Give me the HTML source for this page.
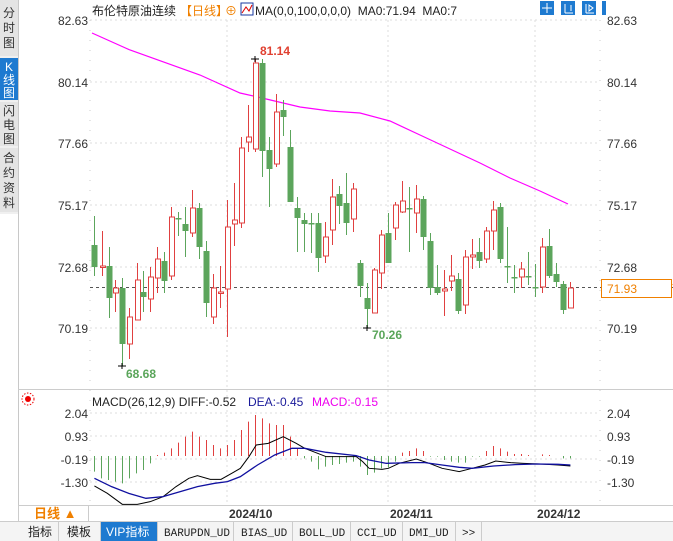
<!DOCTYPE html>
<html><head><meta charset="utf-8"><style>
body{margin:0;width:673px;height:541px;overflow:hidden;background:#fff;font-family:"Liberation Sans","Noto Sans CJK SC",sans-serif}
svg{position:absolute;left:0;top:0}
</style></head><body>
<svg id="s" width="673" height="541" xmlns="http://www.w3.org/2000/svg" font-family="Liberation Sans, Noto Sans CJK SC, sans-serif">
<rect x="0" y="0" width="18" height="214" fill="#f0f0f0"/>
<line x1="18.5" y1="0" x2="18.5" y2="521" stroke="#c8c8c8"/>
<rect x="0" y="0" width="18" height="56" fill="#e4e4e4"/>
<rect x="0" y="58" width="18" height="42" fill="#1e7ad0"/>
<rect x="0" y="102" width="18" height="44" fill="#e4e4e4"/>
<rect x="0" y="148" width="18" height="64" fill="#e4e4e4"/>
<g font-size="12" fill="#333" text-anchor="middle">
<text x="9" y="17">分</text><text x="9" y="32">时</text><text x="9" y="47">图</text>
<text x="9" y="71" fill="#fff">K</text><text x="9" y="84" fill="#fff">线</text><text x="9" y="97" fill="#fff">图</text>
<text x="9" y="115">闪</text><text x="9" y="129">电</text><text x="9" y="143">图</text>
<text x="9" y="162">合</text><text x="9" y="177">约</text><text x="9" y="192">资</text><text x="9" y="207">料</text>
</g>
<g font-size="12">
<text x="92" y="15" fill="#222">布伦特原油连续</text>
<text x="180" y="15" fill="#f08000">【日线】</text>
<text x="225" y="15" fill="#f08000">⊕</text>
<rect x="241" y="3" width="12" height="12" fill="#fff" stroke="#1a3aa0"/>
<polyline points="242,13 246,7 249,11 252,5" fill="none" stroke="#d00"/>
<text x="255" y="15" fill="#222" xml:space="preserve">MA(0,0,100,0,0,0)  MA0:71.94  MA0:7</text>
</g>
<g fill="#1e7ad0"><rect x="540" y="1" width="14" height="14"/><rect x="561" y="1" width="14" height="14"/><rect x="582" y="1" width="14" height="14"/><rect x="602" y="1" width="4" height="14"/></g>
<g stroke="#fff" fill="none"><path d="M547 3v10M542 8h10"/><path d="M565 4v9M565 13h8M571 5v6"/><path d="M586 4v9M586 13h8M589 5l4 3-4 3z"/></g>
<g font-size="12" fill="#333">
<text x="88" y="25" text-anchor="end">82.63</text><text x="88" y="87" text-anchor="end">80.14</text><text x="88" y="148" text-anchor="end">77.66</text><text x="88" y="210" text-anchor="end">75.17</text><text x="88" y="272" text-anchor="end">72.68</text><text x="88" y="333" text-anchor="end">70.19</text>
<text x="607" y="25">82.63</text><text x="607" y="87">80.14</text><text x="607" y="148">77.66</text><text x="607" y="210">75.17</text><text x="607" y="272">72.68</text><text x="607" y="333">70.19</text>
</g>
<g stroke="#ddd" stroke-dasharray="2,3">
<line x1="90" y1="20" x2="600" y2="20"/><line x1="90" y1="82" x2="600" y2="82"/><line x1="90" y1="143" x2="600" y2="143"/><line x1="90" y1="205" x2="600" y2="205"/><line x1="90" y1="267" x2="600" y2="267"/><line x1="90" y1="328" x2="600" y2="328"/>
<line x1="227" y1="20" x2="227" y2="505"/><line x1="388" y1="20" x2="388" y2="505"/><line x1="535" y1="20" x2="535" y2="505"/>
<line x1="90" y1="413" x2="600" y2="413"/><line x1="90" y1="436" x2="600" y2="436"/><line x1="90" y1="459" x2="600" y2="459"/><line x1="90" y1="482" x2="600" y2="482"/>
</g>
<line x1="90" y1="20" x2="90" y2="505" stroke="#ccc" stroke-dasharray="1,9"/>
<line x1="600" y1="20" x2="600" y2="505" stroke="#ccc" stroke-dasharray="1,9"/>
<polyline fill="none" stroke="#f0f" stroke-width="1.2" points="92,33 130,50 200,75 240,93 262,98 300,107 330,111 360,113 390,121 420,135 450,149 480,163 510,178 540,191 568,204"/>
<line x1="90" y1="287.5" x2="673" y2="287.5" stroke="#555" stroke-dasharray="3,3"/>
<g id="c"></g>
<text x="260" y="55" font-size="12" font-weight="bold" fill="#e04030">81.14</text>
<path d="M251 59h8M255 56v6" stroke="#000"/>
<text x="126" y="378" font-size="12" font-weight="bold" fill="#5aa55a">68.68</text>
<path d="M118 366h8M122 363v6" stroke="#000"/>
<text x="372" y="339" font-size="12" font-weight="bold" fill="#5aa55a">70.26</text>
<path d="M363 328h8M367 325v6" stroke="#000"/>
<polygon points="663,285 668,280 673,285" fill="#f08000"/>
<rect x="601.5" y="279.5" width="70" height="18" fill="#fff" stroke="#f08000"/>
<text x="607" y="293" font-size="12" fill="#f08000">71.93</text>
<line x1="18" y1="389.5" x2="673" y2="389.5" stroke="#ccc"/>
<circle cx="28" cy="399" r="3" fill="#e00"/><circle cx="28" cy="399" r="6" fill="none" stroke="#e00" stroke-dasharray="1.5,1.5"/>
<g font-size="12"><text x="92" y="406" fill="#222">MACD(26,12,9) DIFF:-0.52</text><text x="248" y="406" fill="#1a1a9a">DEA:-0.45</text><text x="312" y="406" fill="#e0e">MACD:-0.15</text></g>
<g font-size="12" fill="#333">
<text x="88" y="418" text-anchor="end">2.04</text><text x="88" y="441" text-anchor="end">0.93</text><text x="88" y="464" text-anchor="end">-0.19</text><text x="88" y="487" text-anchor="end">-1.30</text>
<text x="607" y="418">2.04</text><text x="607" y="441">0.93</text><text x="607" y="464">-0.19</text><text x="607" y="487">-1.30</text>
</g>
<g id="h"></g>
<g transform="translate(0,390) scale(0.4292,0.3333)" fill="none">
<polyline vector-effect="non-scaling-stroke" stroke="#000" stroke-width="1" points="220,288 250,310 285,343 320,343 350,335 380,320 410,290 440,265 460,257 490,268 515,268 540,250 560,235 580,200 597,165 625,160 660,140 690,160 710,175 740,190 760,200 800,200 830,200 845,215 860,235 890,238 905,235 930,220 970,207 1000,220 1030,235 1070,245 1100,235 1130,225 1155,213 1190,218 1220,220 1260,222 1300,225 1329,228"/>
<polyline vector-effect="non-scaling-stroke" stroke="#1010a0" stroke-width="1.3" points="220,265 260,290 300,310 340,325 380,320 420,305 460,290 500,280 530,275 560,260 600,225 640,195 680,175 710,175 760,187 830,197 860,210 900,220 960,218 990,218 1030,225 1070,232 1100,235 1150,228 1200,224 1250,222 1300,223 1329,225"/>
</g>
<line x1="18" y1="505.5" x2="673" y2="505.5" stroke="#ccc"/>
<rect x="18.5" y="505.5" width="70" height="16" fill="#fff" stroke="#ccc"/>
<text x="34" y="518" font-size="13" font-weight="bold" fill="#f08000">日线 ▲</text>
<g font-size="12" font-weight="bold" fill="#333"><text x="229" y="518">2024/10</text><text x="390" y="518">2024/11</text><text x="537" y="518">2024/12</text></g>
<rect x="0" y="521" width="673" height="20" fill="#f4f4f4"/>
<line x1="0" y1="521.5" x2="673" y2="521.5" stroke="#ccc"/>
<rect x="100" y="522" width="57" height="19" fill="#1e7ad0"/>
<g stroke="#ccc"><line x1="58.5" y1="522" x2="58.5" y2="541"/><line x1="100.5" y1="522" x2="100.5" y2="541"/><line x1="157.5" y1="522" x2="157.5" y2="541"/><line x1="233.5" y1="522" x2="233.5" y2="541"/><line x1="292.5" y1="522" x2="292.5" y2="541"/><line x1="350.5" y1="522" x2="350.5" y2="541"/><line x1="402.5" y1="522" x2="402.5" y2="541"/><line x1="455.5" y1="522" x2="455.5" y2="541"/><line x1="481.5" y1="522" x2="481.5" y2="541"/></g>
<g font-size="12" fill="#222"><text x="28" y="536">指标</text><text x="67" y="536">模板</text><text x="106" y="536" fill="#fff">VIP指标</text></g>
<g font-size="11" fill="#222" font-family="Liberation Mono, monospace"><text x="164" y="536">BARUPDN_UD</text><text x="241" y="536">BIAS_UD</text><text x="299" y="536">BOLL_UD</text><text x="357" y="536">CCI_UD</text><text x="409" y="536">DMI_UD</text><text x="462" y="536">&gt;&gt;</text></g>
</svg>
<script>
var C=[[94,'g',245,267,216,276],[102,'r',266,267,231,276],[109,'g',266,298,247,318],[115,'r',288,293,280,312],[122,'g',288,344,278,366],[129,'r',317,344,308,359],[137,'r',280,320,263,320],[143,'g',292,297,271,312],[150,'r',277,299,267,312],[157,'r',259,278,247,293],[164,'g',261,281,252,293],[171,'r',217,276,207,280],[178,'g',218,219,212,236],[185,'g',224,231,207,257],[192,'r',208,233,190,237],[199,'g',208,247,203,259],[206,'g',251,303,241,317],[213,'r',288,317,274,324],[220,'r',292,293,266,308],[227,'r',227,289,200,337],[234,'r',220,224,183,246],[241,'r',148,223,137,228],[248,'r',137,142,105,152],[255,'r',63,149,59,152],[262,'g',63,151,59,177],[269,'g',150,169,137,207],[276,'r',112,164,94,167],[283,'g',110,117,100,136],[290,'g',147,202,130,202],[297,'g',208,218,197,252],[304,'g',220,224,213,252],[311,'g',223,224,213,253],[318,'g',223,258,213,272],[325,'r',237,256,222,263],[332,'r',197,230,179,245],[339,'g',194,206,186,224],[346,'g',203,223,173,235],[353,'r',189,219,183,232],[360,'g',263,286,260,297],[367,'g',298,309,283,328],[374,'r',270,313,268,313],[381,'r',235,273,230,289],[388,'g',233,263,213,263],[395,'r',205,228,202,240],[402,'r',201,212,181,213],[409,'g',208,209,187,252],[416,'r',199,213,185,233],[423,'g',199,237,196,250],[430,'g',241,288,233,295],[437,'g',287,293,265,295],[444,'r',289,291,270,316],[451,'r',276,281,255,291],[458,'g',279,311,273,314],[465,'r',257,305,250,314],[472,'r',255,257,239,269],[479,'g',252,261,238,268],[486,'r',231,259,227,263],[493,'r',210,231,201,250],[500,'g',207,259,203,263],[507,'g',266,267,227,283],[514,'g',277,278,265,293],[521,'r',269,277,262,288],[528,'g',276,277,252,285],[535,'g',287,288,264,297],[542,'r',247,287,238,293],[549,'g',246,276,229,278],[556,'g',274,282,263,287],[563,'g',284,310,281,314],[570,'r',288,308,282,308]];
var s='';C.forEach(function(c){var x=c[0],col=c[1]=='r'?'#e04040':'#5ca55c',t=c[2],b=c[3];if(b-t<1.5)b=t+1.5;
s+='<line x1="'+x+'.5" y1="'+c[4]+'" x2="'+x+'.5" y2="'+c[5]+'" stroke="'+col+'"/>';
if(c[1]=='r'){s+='<rect x="'+(x-2)+'.5" y="'+t+'" width="5" height="'+(b-t)+'" fill="#fff" stroke="'+col+'"/>'}else{s+='<rect x="'+(x-2.5)+'" y="'+t+'" width="6" height="'+(b-t)+'" fill="'+col+'"/>'}});
document.getElementById('c').innerHTML=s;
var H=[245,265,270,275,280,265,250,240,220,195,188,175,158,140,125,140,150,165,175,165,150,120,95,75,85,100,105,105,140,175,205,215,238,230,225,222,218,215,230,255,248,235,232,215,188,183,175,183,200,200,210,215,218,218,200,200,183,168,175,185,192,192,195,198,193,195,198,205,205];
var h='';H.forEach(function(v,i){var x=94+i*7,y=390+v/3,z=456;var col=y>z?'#5ca55c':'#e04040';h+='<line x1="'+x+'.5" y1="'+z+'" x2="'+x+'.5" y2="'+y+'" stroke="'+col+'"/>'});
document.getElementById('h').innerHTML=h;
</script>
</body></html>
